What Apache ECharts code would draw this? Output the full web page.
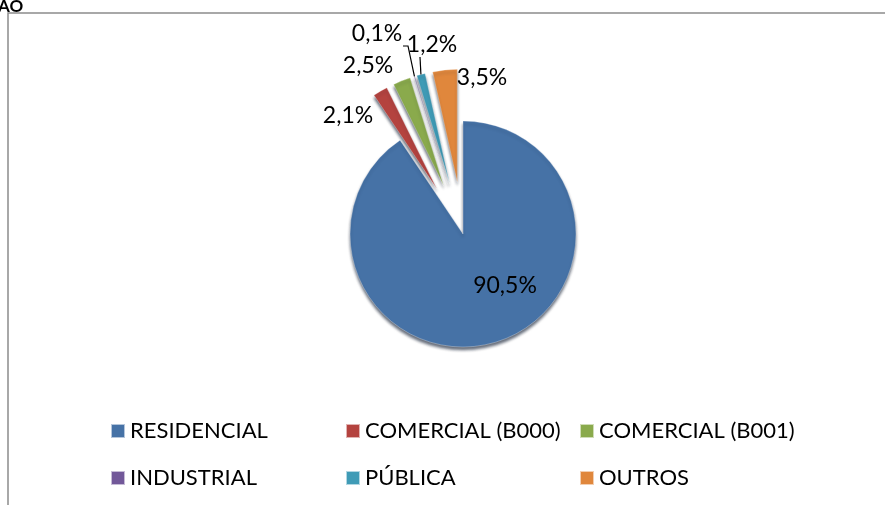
<!DOCTYPE html>
<html>
<head>
<meta charset="utf-8">
<script src="https://cdn.jsdelivr.net/npm/echarts@6/dist/echarts.min.js"></script>
<style>
  html, body { margin: 0; padding: 0; background: #fff; }
  #chart { width: 885px; height: 505px; }
</style>
</head>
<body>
<div id="chart"></div>
<script>
// dados do grafico
var categorias = ['RESIDENCIAL', 'COMERCIAL (B000)', 'COMERCIAL (B001)', 'INDUSTRIAL', 'PÚBLICA', 'OUTROS'];
var valores = [90.5, 2.1, 2.5, 0.1, 1.2, 3.5];
var cores = ['#4672a6', '#b4433f', '#8aaa4c', '#725899', '#3f9bb6', '#e0873c'];

var fonte = 'Lato';
var centro = [463, 234];
var raio = 113;
var destaque = 52; // deslocamento das fatias pequenas
// onde fica cada rotulo (centro do texto)
var posRotulo = [[505, 286], [348, 116], [368, 66], [377, 34], [432, 45], [482, 78]];
// linhas de chamada: indice da fatia e pontos junto ao rotulo
var chamadas = [
    { idx: 3, pts: [[403, 46], [408, 46]] },
    { idx: 4, pts: [[420, 57]] }
];

function dados() {
    var res = [];
    for (var i = 0; i < categorias.length; i++) {
        var d = {
            name: categorias[i],
            value: valores[i],
            selected: i > 0,
            itemStyle: { color: cores[i] }
        };
        if (i == 0) {
            d.label = { position: 'inside' };
        }
        res.push(d);
    }
    return res;
}

// angulo do meio de cada fatia (a partir do topo, sentido horario)
function anguloMeio(idx) {
    var total = 0, acum = 0;
    for (var i = 0; i < valores.length; i++) {
        total += valores[i];
        if (i < idx) acum += valores[i];
    }
    return (acum + valores[idx] / 2) / total * 2 * Math.PI;
}

// deslocamento de cada fatia destacada (o rotulo anda junto com ela)
function deslocamento(idx) {
    if (idx == 0) return [0, 0];
    var ang = anguloMeio(idx);
    return [Math.sin(ang) * destaque, -Math.cos(ang) * destaque];
}

// ponta externa da fatia destacada
function ponta(idx) {
    var ang = anguloMeio(idx);
    var off = deslocamento(idx);
    return [centro[0] + off[0] + Math.sin(ang) * raio, centro[1] + off[1] - Math.cos(ang) * raio];
}

var graficos = [
    {
        type: 'rect',
        shape: { x: 8, y: 13, width: 900, height: 520 },
        style: { fill: 'none', stroke: '#8c8c8c', lineWidth: 1.5 }
    },
    {
        type: 'text',
        left: -2, top: -2,
        style: { text: 'ÃO', font: 'bold 17px ' + fonte, fill: '#000' }
    }
];
chamadas.forEach(function (c) {
    graficos.push({
        type: 'polyline',
        z: 10,
        shape: { points: c.pts.concat([ponta(c.idx)]) },
        style: { stroke: '#000', lineWidth: 1.2, fill: null }
    });
});

var myChart = echarts.init(document.getElementById('chart'));
myChart.setOption({
    animation: false,
    graphic: graficos,
    legend: [0, 1, 2].map(function (c) {
        return {
            orient: 'vertical',
            left: [105, 340, 574][c],
            top: 415,
            itemWidth: 14,
            itemHeight: 14,
            itemGap: 25,
            icon: 'rect',
            selectedMode: false,
            textStyle: { fontSize: 22, fontFamily: fonte, color: '#000', lineHeight: 22 },
            data: [categorias[c], categorias[c + 3]]
        };
    }),
    series: [{
        type: 'pie',
        center: centro,
        radius: raio,
        startAngle: 90,
        clockwise: true,
        selectedMode: 'multiple',
        selectedOffset: destaque,
        avoidLabelOverlap: false,
        label: {
            fontSize: 23,
            fontFamily: fonte,
            color: '#000',
            formatter: function (p) { return p.value.toFixed(1).replace('.', ',') + '%'; }
        },
        labelLine: { show: false },
        labelLayout: function (p) {
            var pos = posRotulo[p.dataIndex];
            var off = deslocamento(p.dataIndex);
            var r = p.labelRect;
            return {
                dx: pos[0] - off[0] - (r.x + r.width / 2),
                dy: pos[1] - off[1] - (r.y + r.height / 2)
            };
        },
        itemStyle: {
            borderColor: 'rgba(255,255,255,0.6)',
            borderWidth: 0.5,
            shadowBlur: 3,
            shadowOffsetY: 3,
            shadowColor: 'rgba(20,30,50,0.65)'
        },
        emphasis: { disabled: true },
        data: dados()
    }]
});
</script>
</body>
</html>
